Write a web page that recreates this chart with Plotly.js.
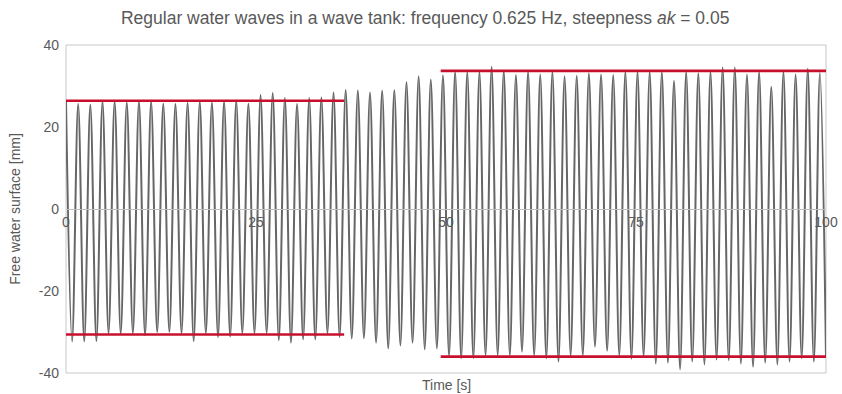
<!DOCTYPE html>
<html>
<head>
<meta charset="utf-8">
<script src="https://cdn.plot.ly/plotly-3.0.1.min.js"></script>
<style>html,body{margin:0;padding:0;background:#fff}#chart{width:842px;height:394px}</style>
</head>
<body>
<div id="chart"></div>
<script>
// Wave frequency from the title (Hz)
var frequency = 0.625;
// Crest elevations [mm], one per wave period, starting at t = 0
var crestHeights = [26.2, 25.6, 25.4, 26.2, 26.2, 26.0, 26.2, 26.2, 25.7, 25.6, 25.9,
  26.2, 26.0, 26.2, 26.4, 25.7, 27.8, 28.3, 27.1, 25.6, 27.1, 27.2,
  28.4, 29.0, 28.9, 28.4, 28.9, 29.0, 31.0, 32.4, 31.6, 32.6,
  33.5, 33.4, 33.5, 34.7, 33.7, 32.7, 33.5, 32.8, 33.5, 32.4, 32.5,
  33.1, 32.8, 32.7, 33.5, 33.5, 33.5, 33.5, 31.3, 33.5, 33.1, 33.5,
  34.5, 34.5, 32.8, 33.5, 29.8, 33.5, 32.8, 34.2, 33.2];
// Trough elevations [mm], one per wave period, starting half a period after t = 0
var troughHeights = [-32.3, -32.3, -32.2, -30.3, -30.4, -30.3, -30.8, -30.0, -30.0, -30.3,
  -32.2, -30.3, -31.2, -31.1, -30.3, -30.3, -30.3, -32.0, -32.6, -31.8, -31.8,
  -30.3, -31.2, -31.6, -31.5, -32.6, -34.0, -33.3, -32.6, -34.2, -34.0, -35.9,
  -36.4, -36.4, -35.7, -35.7, -35.7, -34.8, -35.7, -36.4, -37.2, -35.7, -35.7,
  -33.6, -34.6, -35.7, -36.5, -35.9, -37.7, -37.5, -39.1, -37.2, -37.9,
  -36.7, -36.9, -37.7, -38.5, -37.5, -37.9, -37.2, -36.4, -37.2, -36.0];
// Reference envelope lines: [start time, end time, level]
var envStartTimes = [0, 49.3];
var envEndTimes = [36.6, 100];
var envUpper = [26.4, 33.7];
var envLower = [-30.6, -36.0];
var xTickVals = [0, 25, 50, 75, 100];
var xTickText = ['0', '25', '50', '75', '100'];
var yTickVals = [-40, -20, 0, 20, 40];
var yTickText = ['-40', '-20', '0', '20', '40'];

// Alternate crest / trough samples on a half-period time grid
var halfPeriod = 0.5 / frequency;
var waveT = [], waveY = [];
var n = Math.max(crestHeights.length, troughHeights.length);
for (var i = 0; i < n; i++) {
  if (i < crestHeights.length) { waveT.push(2 * i * halfPeriod); waveY.push(crestHeights[i]); }
  if (i < troughHeights.length) { waveT.push((2 * i + 1) * halfPeriod); waveY.push(troughHeights[i]); }
}

var red = '#C8102E';
var traces = [{
  x: waveT, y: waveY, type: 'scatter', mode: 'lines',
  line: {color: '#666666', width: 2, shape: 'spline', smoothing: 1},
  hoverinfo: 'skip', showlegend: false
}];
for (var k = 0; k < envStartTimes.length; k++) {
  traces.push({x: [envStartTimes[k], envEndTimes[k]], y: [envUpper[k], envUpper[k]], type: 'scatter', mode: 'lines',
    line: {color: red, width: 2.6}, showlegend: false, hoverinfo: 'skip'});
  traces.push({x: [envStartTimes[k], envEndTimes[k]], y: [envLower[k], envLower[k]], type: 'scatter', mode: 'lines',
    line: {color: red, width: 2.6}, showlegend: false, hoverinfo: 'skip'});
}

var txt = '#595959';
var layout = {
  width: 842, height: 394,
  margin: {l: 66, r: 16, t: 45, b: 21},
  paper_bgcolor: '#fff', plot_bgcolor: '#fff',
  font: {family: "'Liberation Sans', Arial, sans-serif", size: 14, color: txt},
  title: {text: 'Regular water waves in a wave tank: frequency 0.625 Hz, steepness <i>ak</i> = 0.05',
    font: {size: 17.5, color: txt}, x: 0.505, xanchor: 'center', y: 0.955, yref: 'container', yanchor: 'middle'},
  xaxis: {range: [0, 100], tickvals: xTickVals, ticktext: xTickText, anchor: 'free', position: 0.5,
    showline: true, linecolor: '#bfbfbf', linewidth: 1, showgrid: false, zeroline: false,
    ticks: '', tickfont: {size: 14, color: txt}},
  yaxis: {range: [-40, 40], tickvals: yTickVals, ticktext: yTickText, showgrid: false, zeroline: false,
    showline: false, ticks: '', ticklabelstandoff: 6, tickfont: {size: 14, color: txt},
    title: {text: 'Free water surface [mm]', font: {size: 14, color: txt}, standoff: 14}},
  shapes: [{type: 'rect', xref: 'paper', yref: 'paper', x0: 0, x1: 1, y0: 0, y1: 1,
    line: {color: '#c8c8c8', width: 1}, layer: 'below'}],
  annotations: [{text: 'Time [s]', xref: 'paper', yref: 'paper', x: 0.5, y: 0, yshift: -2,
    xanchor: 'center', yanchor: 'top', showarrow: false, font: {size: 14, color: txt}}]
};
Plotly.newPlot('chart', traces, layout, {staticPlot: true, displayModeBar: false});
</script>
</body>
</html>
